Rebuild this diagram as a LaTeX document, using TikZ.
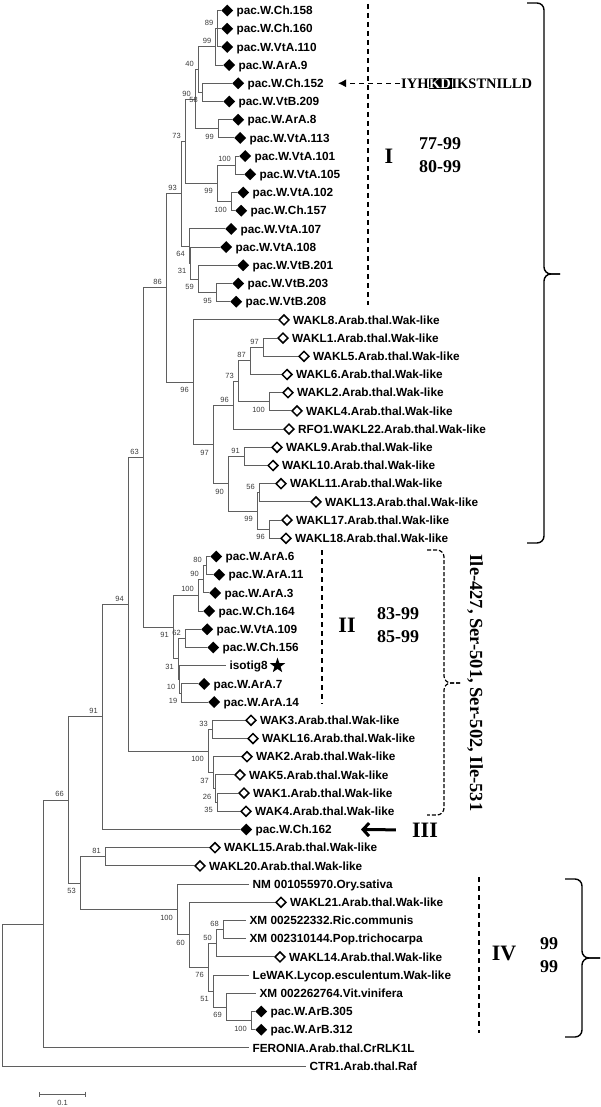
\documentclass[tikz,border=0pt]{standalone}
\usepackage{fontspec}
\setmainfont{Liberation Serif}
\setsansfont{Liberation Sans}
\usetikzlibrary{shapes.geometric, arrows.meta, positioning}
\definecolor{treegray}{RGB}{95,95,95}
\definecolor{bootgray}{RGB}{60,60,60}
\pgfmathdeclarefunction{row}{1}{\pgfmathparse{10.5+18.2*(#1-1)}}
\newcommand{\hlbox}[1]{{\setlength{\fboxsep}{0.6pt}\colorbox{black}{\textcolor{white}{#1}}}}

\begin{document}
\begin{tikzpicture}[x=1pt, y=-1pt,
    branch/.style={draw=treegray, line width=0.9pt},
    pac/.style={diamond, fill=black, inner sep=0pt, minimum size=12pt, anchor=west},
    wak/.style={diamond, draw=black, fill=white, line width=1.5pt, inner sep=0pt, minimum size=10.5pt, anchor=west},
    plain/.style={rectangle, inner sep=0pt, minimum size=0pt, anchor=west},
    leaf/.style={anchor=west, inner sep=0pt, xshift=3pt, text height=8.4pt, text depth=0pt, font=\sffamily\bfseries\fontsize{11.8}{12}\selectfont},
    starmark/.style={star, star points=5, star point ratio=2.5, fill=black, inner sep=0pt, minimum size=16pt},
    boot/.style={inner sep=1.5pt, text height=5.4pt, text depth=0pt, text=bootgray, font=\sffamily\fontsize{7.5}{8}\selectfont},
    bu/.style={boot, anchor=south east, xshift=-2.5pt, yshift=1.5pt},
    bl/.style={boot, anchor=north east, xshift=-2.5pt, yshift=-3.5pt},
    grouplab/.style={font=\bfseries\fontsize{22}{24}\selectfont, inner sep=0pt},
    rangelab/.style={font=\bfseries\fontsize{18}{23}\selectfont, align=center, inner sep=0pt},
    sitelab/.style={font=\bfseries\fontsize{18.5}{20}\selectfont, inner sep=0pt},
    seqtext/.style={font=\bfseries\fontsize{14.5}{16}\selectfont, inner sep=1pt, text height=9.6pt, text depth=0pt},
    dashline/.style={line width=1.3pt, dash pattern=on 5pt off 4pt},
    seqarrow/.style={line width=1.2pt, dash pattern=on 5pt off 4pt, -{Latex[length=8pt, width=8pt]}},
    bigarrow/.style={line width=3pt, -{Straight Barb[length=6pt, width=13pt]}},
    bracepath/.style={line width=1.4pt, rounded corners=7pt}
]
\useasboundingbox (0,0) rectangle (600,1107);

% leaves
\foreach \r/\x/\m/\t in {
  1/221/pac/pac.W.Ch.158, 2/221/pac/pac.W.Ch.160, 3/221/pac/pac.W.VtA.110,
  4/223/pac/pac.W.ArA.9, 5/232/pac/pac.W.Ch.152, 6/223/pac/pac.W.VtB.209,
  7/232/pac/pac.W.ArA.8, 8/234/pac/pac.W.VtA.113, 9/239/pac/pac.W.VtA.101,
  10/244/pac/pac.W.VtA.105, 11/237/pac/pac.W.VtA.102, 12/235/pac/pac.W.Ch.157,
  13/225/pac/pac.W.VtA.107, 14/220/pac/pac.W.VtA.108, 15/237/pac/pac.W.VtB.201,
  16/232/pac/pac.W.VtB.203, 17/230/pac/pac.W.VtB.208,
  18/278/wak/WAKL8.Arab.thal.Wak-like, 19/277/wak/WAKL1.Arab.thal.Wak-like,
  20/298/wak/WAKL5.Arab.thal.Wak-like, 21/281/wak/WAKL6.Arab.thal.Wak-like,
  22/282/wak/WAKL2.Arab.thal.Wak-like, 23/291/wak/WAKL4.Arab.thal.Wak-like,
  24/283/wak/RFO1.WAKL22.Arab.thal.Wak-like, 25/271/wak/WAKL9.Arab.thal.Wak-like,
  26/267/wak/WAKL10.Arab.thal.Wak-like, 27/275/wak/WAKL11.Arab.thal.Wak-like,
  28/310/wak/WAKL13.Arab.thal.Wak-like, 29/281/wak/WAKL17.Arab.thal.Wak-like,
  30/280/wak/WAKL18.Arab.thal.Wak-like,
  31/210/pac/pac.W.ArA.6, 32/213/pac/pac.W.ArA.11, 33/209/pac/pac.W.ArA.3,
  34/203/pac/pac.W.Ch.164, 35/201/pac/pac.W.VtA.109, 36/207/pac/pac.W.Ch.156,
  37/226/plain/isotig8, 38/198/pac/pac.W.ArA.7, 39/208/pac/pac.W.ArA.14,
  40/245/wak/WAK3.Arab.thal.Wak-like, 41/247/wak/WAKL16.Arab.thal.Wak-like,
  42/241/wak/WAK2.Arab.thal.Wak-like, 43/234/wak/WAK5.Arab.thal.Wak-like,
  44/238/wak/WAK1.Arab.thal.Wak-like, 45/240/wak/WAK4.Arab.thal.Wak-like,
  46/240/pac/pac.W.Ch.162,
  47/209/wak/WAKL15.Arab.thal.Wak-like, 48/194/wak/WAKL20.Arab.thal.Wak-like,
  49/249/plain/NM 001055970.Ory.sativa, 50/275/wak/WAKL21.Arab.thal.Wak-like,
  51/246/plain/XM 002522332.Ric.communis, 52/246/plain/XM 002310144.Pop.trichocarpa,
  53/274/wak/WAKL14.Arab.thal.Wak-like, 54/249/plain/LeWAK.Lycop.esculentum.Wak-like,
  55/256/plain/XM 002262764.Vit.vinifera, 56/255/pac/pac.W.ArB.305,
  57/255/pac/pac.W.ArB.312, 58/249/plain/FERONIA.Arab.thal.CrRLK1L,
  59/306/plain/CTR1.Arab.thal.Raf}{
  \node[\m] (L\r) at (\x,{row(\r)}) {};
  \node[leaf] (T\r) at (L\r.east) {\t};
}
\node[starmark, right=5pt of T37] (star) {};

% internal nodes
\foreach \n/\x/\r in {
  n89/217.5/2, n99a/215.5/3, n58/202/5.5, n40/198/4.25, n99b/218/7.5, n90/195/5.875,
  n100a/235/9.5, n100b/231/11.5, n99c/217/10.5, n73/185/8.1875,
  n95/216/16.5, n59/198/15.75, n31/190.5/14.875, n64/189/13.9375, n93/181/11.0625,
  n97b/263/19.5, n87/250/20.25, n100c/269/22.5, n73b/238/21.375, n96b/233/22.6875,
  n91a/244/25.5, n56/259/27.5, n96c/269/29.5, n99d/257/28.5, n90b/228/27,
  n97/213/24.84375, n96a/193/21.421875, n86/166/16.2421875,
  n80/206/31.5, n90c/203/32.25, n100d/198/33.125, n62/185/35.5, n19/181.5/38.5,
  n10/179.5/37.75, n31b/178/36.625, n91b/173/34.875, n63/143/25.55859375,
  n33/212/40.5, n35/217/44.5, n26/215.5/43.75, n37/213/42.875, n100e/208/41.6875,
  n94/128/33.623046875, n91c/102/39.8115234375,
  n81/105/47.5, n68/223/51.5, n50/216/52.25, n100f/251/56.5, n69/226/55.75,
  n51/213/54.875, n76/208/53.5625, n60/189/51.78125, n100g/177/50.390625,
  n53/80/48.9453125, n66/68/44.37841796875, n43/43/51.189208984375,
  nroot/2/55.0946044921875}{
  \coordinate (\n) at (\x,{row(\r)});
}

% branches
\foreach \p/\c in {
  n89/L1, n89/L2, n89/L3, n99a/n89, n99a/L4, n58/L5, n58/L6, n40/n99a, n40/n58,
  n99b/L7, n99b/L8, n90/n40, n90/n99b, n100a/L9, n100a/L10, n100b/L11, n100b/L12,
  n99c/n100a, n99c/n100b, n73/n90, n73/n99c, n95/L16, n95/L17, n59/L15, n59/n95,
  n31/L14, n31/n59, n64/L13, n64/n31, n93/n73, n93/n64,
  n97b/L19, n97b/L20, n87/n97b, n87/L21, n100c/L22, n100c/L23, n73b/n87, n73b/n100c,
  n96b/n73b, n96b/L24, n91a/L25, n91a/L26, n56/L27, n56/L28, n96c/L29, n96c/L30,
  n99d/n56, n99d/n96c, n90b/n91a, n90b/n99d, n97/n96b, n97/n90b, n96a/L18, n96a/n97,
  n86/n93, n86/n96a,
  n80/L31, n80/L32, n90c/n80, n90c/L33, n100d/n90c, n100d/L34, n62/L35, n62/L36,
  n19/L38, n19/L39, n10/L37, n10/n19, n31b/n62, n31b/n10, n91b/n100d, n91b/n31b,
  n63/n86, n63/n91b,
  n33/L40, n33/L41, n35/L44, n35/L45, n26/L43, n26/n35, n37/L42, n37/n26,
  n100e/n33, n100e/n37, n94/n63, n94/n100e, n91c/n94, n91c/L46,
  n81/L47, n81/L48, n68/L51, n68/L52, n50/n68, n50/L53, n100f/L56, n100f/L57,
  n69/L55, n69/n100f, n51/L54, n51/n69, n76/n50, n76/n51, n60/L50, n60/n76,
  n100g/L49, n100g/n60, n53/n81, n53/n100g, n66/n91c, n66/n53,
  n43/n66, n43/L58, nroot/n43, nroot/L59}{
  \draw[branch] (\p) |- (\c);
}

% bootstrap values
\foreach \n/\v/\s in {
  n89/89/bu, n99a/99/bu, n58/58/bl, n40/40/bu, n99b/99/bl, n90/90/bu,
  n100a/100/bu, n100b/100/bl, n99c/99/bl, n73/73/bu, n95/95/bl, n59/59/bl,
  n31/31/bl, n64/64/bl, n93/93/bu, n97b/97/bu, n87/87/bu, n100c/100/bl,
  n73b/73/bu, n96b/96/bu, n91a/91/bu, n56/56/bu, n96c/96/bl, n99d/99/bl,
  n90b/90/bl, n97/97/bl, n96a/96/bl, n86/86/bu, n80/80/bu, n90c/90/bu,
  n100d/100/bu, n62/62/bu, n19/19/bl, n10/10/bl, n31b/31/bl, n91b/91/bl,
  n63/63/bu, n33/33/bu, n35/35/bl, n26/26/bl, n37/37/bl, n100e/100/bl,
  n94/94/bu, n91c/91/bu, n81/81/bu, n68/68/bu, n50/50/bu, n100f/100/bl,
  n69/69/bl, n51/51/bl, n76/76/bl, n60/60/bl, n100g/100/bl, n53/53/bl, n66/66/bu}{
  \node[\s] (b\n) at (\n) {\v};
}

% scale bar
\coordinate (sbl) at (39,1094);
\coordinate (sbr) at (86,1094);
\draw[branch, {Bar[width=5pt]}-{Bar[width=5pt]}] (sbl) -- (sbr);
\node[boot] (sblab) at (62.5,1103) {0.1};

% group I
\coordinate (dIa) at (368,4);
\coordinate (dIb) at (368,305);
\draw[dashline] (dIa) -- (dIb);
\node[seqtext, anchor=west] (seq) at (400,{row(5)}) {IYH\hlbox{KD}IKSTNILLD};
\coordinate (seqtip) at (338,{row(5)});
\draw[seqarrow] (seq.west) -- (seqtip);
\node[grouplab] (gI) at (389,156) {I};
\node[rangelab] (rI) at (440,155.5) {77-99\\80-99};
\draw[bracepath] (527,3) -- (544,3) -- (544,274) -- (560,274);
\draw[bracepath] (560,274) -- (544,274) -- (544,543) -- (527,543);

% group II
\coordinate (dIIa) at (322,550);
\coordinate (dIIb) at (322,704);
\draw[dashline] (dIIa) -- (dIIb);
\node[grouplab] (gII) at (347,625) {II};
\node[rangelab] (rII) at (398,625.5) {83-99\\85-99};
\draw[bracepath, line width=1.2pt, dash pattern=on 4pt off 2pt] (427,550) -- (444,550) -- (444,683) -- (460,683);
\draw[bracepath, line width=1.2pt, dash pattern=on 4pt off 2pt] (460,683) -- (444,683) -- (444,815) -- (427,815);
\node[sitelab, rotate=-90] (sites) at (475,683) {Ile-427, Ser-501, Ser-502, Ile-531};

% group III
\node[grouplab] (gIII) at (425,830) {III};
\coordinate (IIItip) at (361,{row(46)});
\draw[bigarrow, shorten <=16pt] (gIII.west) -- (IIItip);

% group IV
\coordinate (dIVa) at (479,877);
\coordinate (dIVb) at (479,1033);
\draw[dashline] (dIVa) -- (dIVb);
\node[grouplab] (gIV) at (504,953) {IV};
\node[rangelab] (rIV) at (549,955) {99\\99};
\draw[bracepath] (565,879) -- (582,879) -- (582,958) -- (600,958);
\draw[bracepath] (600,958) -- (582,958) -- (582,1037) -- (565,1037);

\end{tikzpicture}
\end{document}
